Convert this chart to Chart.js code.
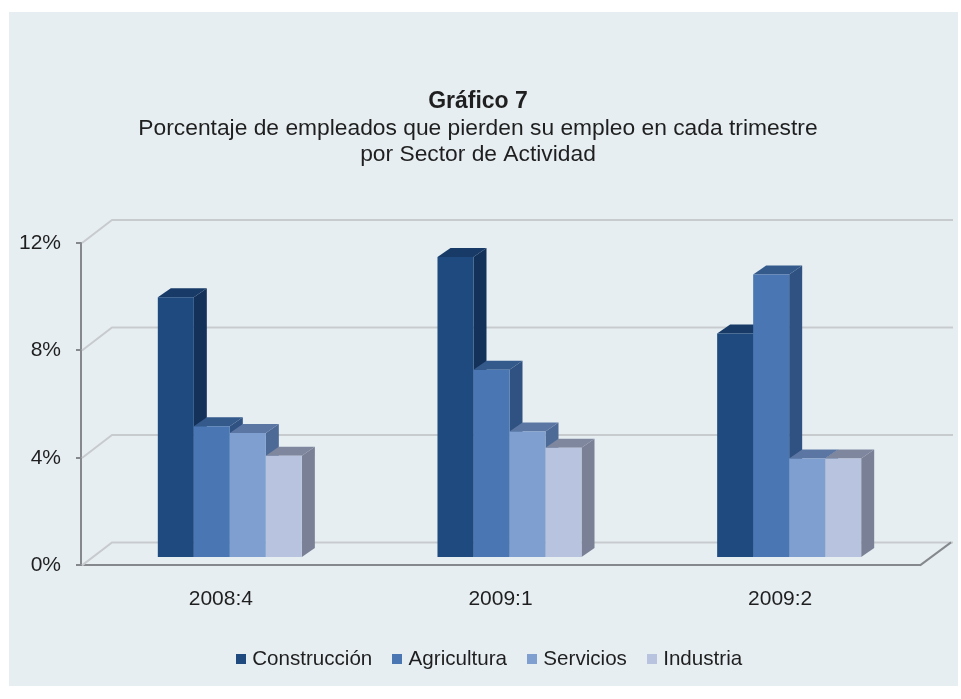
<!DOCTYPE html>
<html>
<head>
<meta charset="utf-8">
<script src="https://cdn.jsdelivr.net/npm/chart.js@4"></script>
<style>
  html, body { margin: 0; background: #fff; }
  #panel { position: absolute; left: 9px; top: 12px; width: 949px; height: 674px; background: #e6eef2; }
  #wrap { position: absolute; left: 0; top: 0; width: 961px; height: 699px; }
</style>
</head>
<body>
<div id="panel"></div>
<div id="wrap"><canvas id="chart"></canvas></div>
<script>
const categories = ["2008:4", "2009:1", "2009:2"];
const construccion = [9.7, 11.2, 8.35];
const agricultura = [4.9, 7.0, 10.55];
const servicios = [4.65, 4.7, 3.7];
const industria = [3.8, 4.1, 3.7];
const yTickValues = [0, 4, 8, 12];

const FONT = "'Liberation Sans', Arial, sans-serif";
const TEXT = "#1f1f1f";
const AXIS = "#85898e";
const WALL = "#c8cbce";

// bars stand a bit inside the floor, the back wall further behind
const barShift = { x: 9, y: -7.5 };
const barDepth = { x: 13, y: -9 };
const wallShift = { x: 31, y: -23 };

// square legend markers, the stock box leaves too big a gap before the text
function marker(color) {
  const c = document.createElement("canvas");
  c.width = 10;
  c.height = 10;
  const g = c.getContext("2d");
  g.fillStyle = color;
  g.fillRect(0, 0, 10, 10);
  return c;
}

function drawFaces(ctx, ds, meta) {
  meta.data.forEach((bar) => {
    const l = bar.x - bar.width / 2;
    const r = bar.x + bar.width / 2;
    // top face
    ctx.fillStyle = ds.topColor;
    ctx.beginPath();
    ctx.moveTo(l, bar.y);
    ctx.lineTo(l + barDepth.x, bar.y + barDepth.y);
    ctx.lineTo(r + barDepth.x, bar.y + barDepth.y);
    ctx.lineTo(r, bar.y);
    ctx.closePath();
    ctx.fill();
    // side face
    ctx.fillStyle = ds.sideColor;
    ctx.beginPath();
    ctx.moveTo(r, bar.y);
    ctx.lineTo(r + barDepth.x, bar.y + barDepth.y);
    ctx.lineTo(r + barDepth.x, bar.base + barDepth.y);
    ctx.lineTo(r, bar.base);
    ctx.closePath();
    ctx.fill();
  });
}

const box3d = {
  id: "box3d",
  afterLayout(chart) {
    // legend sits off-centre in the original
    chart.legend.left += 13;
    chart.legend.right += 13;
    // tick labels are clipped to the axis box, let them use the whole margin
    chart.scales.y.left = 0;
  },
  beforeDatasetsDraw(chart) {
    const { ctx, scales, chartArea } = chart;
    ctx.save();
    ctx.lineWidth = 2;
    ctx.strokeStyle = WALL;
    yTickValues.forEach((v) => {
      const y = scales.y.getPixelForValue(v);
      ctx.beginPath();
      ctx.moveTo(chartArea.left + 1, y);
      ctx.lineTo(chartArea.left + wallShift.x, y + wallShift.y);
      ctx.lineTo(chartArea.right + wallShift.x + 2, y + wallShift.y);
      ctx.stroke();
    });
    // right edge of the floor
    const y0 = scales.y.getPixelForValue(0);
    ctx.strokeStyle = AXIS;
    ctx.beginPath();
    ctx.moveTo(chartArea.right, y0);
    ctx.lineTo(chartArea.right + wallShift.x, y0 + wallShift.y);
    ctx.stroke();
    ctx.restore();
  },
  // default order paints the first dataset last, here the right bars must cover the left ones
  beforeDatasetDraw() {
    return false;
  },
  afterDatasetsDraw(chart) {
    const { ctx } = chart;
    ctx.save();
    ctx.translate(barShift.x, barShift.y);
    chart.data.datasets.forEach((ds, i) => {
      const meta = chart.getDatasetMeta(i);
      drawFaces(ctx, ds, meta);
      meta.controller.draw();
    });
    ctx.restore();
  },
};

new Chart(document.getElementById("chart"), {
  type: "bar",
  data: {
    labels: categories,
    datasets: [
      { label: "Construcción", data: construccion, backgroundColor: "#1e4a80", topColor: "#173a66", sideColor: "#14315a" },
      { label: "Agricultura", data: agricultura, backgroundColor: "#4a77b4", topColor: "#345a8c", sideColor: "#2f5282" },
      { label: "Servicios", data: servicios, backgroundColor: "#7e9fcf", topColor: "#5c76a3", sideColor: "#4d6a96" },
      { label: "Industria", data: industria, backgroundColor: "#b8c4df", topColor: "#7f879f", sideColor: "#7a8196" },
    ],
  },
  plugins: [box3d],
  options: {
    responsive: true,
    maintainAspectRatio: false,
    animation: false,
    layout: { padding: { left: 36, right: 41, top: 82, bottom: 19.5 } },
    datasets: { bar: { categoryPercentage: 0.515, barPercentage: 1, borderWidth: 0 } },
    plugins: {
      title: {
        display: true,
        text: "Gráfico 7",
        color: TEXT,
        font: { family: FONT, size: 23, weight: "bold" },
        padding: { top: 6, bottom: 0 },
      },
      subtitle: {
        display: true,
        text: ["Porcentaje de empleados que pierden su empleo en cada trimestre", "por Sector de Actividad"],
        color: TEXT,
        font: { family: FONT, size: 22.8, lineHeight: 1.14 },
        padding: { top: 0, bottom: 75.4 },
      },
      legend: {
        position: "bottom",
        labels: {
          usePointStyle: true,
          pointStyleWidth: 2,
          color: TEXT,
          font: { family: FONT, size: 20.6 },
          padding: 24,
          generateLabels(chart) {
            return Chart.defaults.plugins.legend.labels.generateLabels(chart).map((item) => {
              item.pointStyle = marker(item.fillStyle);
              return item;
            });
          },
        },
      },
      tooltip: { enabled: false },
    },
    scales: {
      x: {
        afterFit(scale) { scale.height = 59.5; },
        border: { color: AXIS, width: 2 },
        grid: { display: false },
        ticks: { color: TEXT, font: { family: FONT, size: 21 }, padding: 13 },
      },
      y: {
        min: 0,
        max: 12,
        afterFit(scale) { scale.width = 45; },
        afterBuildTicks(scale) { scale.ticks = yTickValues.map((value) => ({ value })); },
        border: { color: AXIS, width: 2 },
        grid: { drawOnChartArea: false, color: AXIS, lineWidth: 2, tickLength: 5 },
        ticks: {
          color: TEXT,
          font: { family: FONT, size: 21 },
          padding: 15,
          callback: (v) => v + "%",
        },
      },
    },
  },
});
</script>
</body>
</html>
